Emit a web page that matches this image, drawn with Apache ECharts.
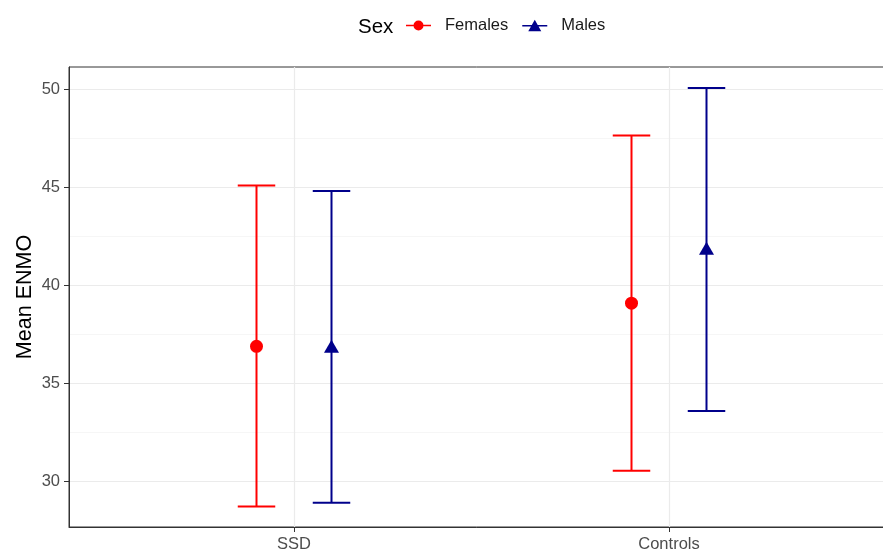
<!DOCTYPE html>
<html>
<head>
<meta charset="utf-8">
<script src="https://cdn.jsdelivr.net/npm/echarts@6/dist/echarts.min.js"></script>
<style>html,body{margin:0;padding:0;background:#fff;}#c{width:883px;height:550px;}</style>
</head>
<body>
<div id="c"></div>
<script>
// ---- data ----
var categories = ['SSD', 'Controls'];
var sexes = ['Females', 'Males'];
var femaleMean = [36.9, 39.1];
var femaleLower = [28.72, 30.55];
var femaleUpper = [45.1, 47.65];
var maleMean = [36.9, 41.9];
var maleLower = [28.92, 33.6];
var maleUpper = [44.82, 50.08];
var yTicks = [30, 35, 40, 45, 50];
var yMinor = [32.5, 37.5, 42.5, 47.5];

// ---- layout/style constants ----
var dodge = 0.1;
var capHalf = 0.05;
var FONT = '"Liberation Sans", Arial, Helvetica, sans-serif';
var colF = '#FF0000', colM = '#00008B';

function build(means, lows, ups, off) {
  var bars = [], pts = [];
  for (var i = 0; i < categories.length; i++) {
    bars.push([i + off, lows[i], ups[i]]);
    pts.push([i + off, means[i]]);
  }
  return {bars: bars, pts: pts};
}
var F = build(femaleMean, femaleLower, femaleUpper, -dodge);
var M = build(maleMean, maleLower, maleUpper, dodge);

function errRender(color) {
  return function (params, api) {
    var x = api.value(0);
    var lo = api.coord([x, api.value(1)]);
    var hi = api.coord([x, api.value(2)]);
    var hw = api.size([capHalf, 0])[0];
    var st = {stroke: color, lineWidth: 2, fill: null};
    return {type: 'group', children: [
      {type: 'line', shape: {x1: lo[0], y1: lo[1], x2: hi[0], y2: hi[1]}, style: st},
      {type: 'line', shape: {x1: lo[0] - hw, y1: lo[1], x2: lo[0] + hw, y2: lo[1]}, style: st},
      {type: 'line', shape: {x1: hi[0] - hw, y1: hi[1], x2: hi[0] + hw, y2: hi[1]}, style: st}
    ]};
  };
}

var iconF = 'path://M0,5.7H25V7.3H0Z M7.5,6.5A5,5 0 1 1 17.5,6.5A5,5 0 1 1 7.5,6.5Z';
var iconM = 'path://M0,5.7H25V7.3H0Z M12.5,0.5L19,12L6,12Z';

var chart = echarts.init(document.getElementById('c'), null, {renderer: 'canvas'});
chart.setOption({
  animation: false,
  backgroundColor: '#fff',
  title: {text: 'Sex', left: 353, top: 12, textStyle: {fontFamily: FONT, fontSize: 20.5, fontWeight: 'normal', color: '#000'}},
  legend: {
    left: 406, top: 17, padding: 0, itemWidth: 25, itemHeight: 13, itemGap: 14,
    textStyle: {fontFamily: FONT, fontSize: 16.5, color: '#1a1a1a', padding: [0, 0, 0, 9]},
    data: [
      {name: sexes[0], icon: iconF, itemStyle: {color: colF}},
      {name: sexes[1], icon: iconM, itemStyle: {color: colM}}
    ]
  },
  grid: {left: 69, top: 67, height: 460, width: 825, outerBoundsMode: 'none', containLabel: false,
    show: true, borderColor: '#333', borderWidth: 1, backgroundColor: '#fff'},
  xAxis: {
    type: 'value', min: -0.6, max: 1.6,
    axisLine: {show: true, onZero: false, lineStyle: {color: '#333', width: 1}},
    axisTick: {show: true, customValues: [0, 1], length: 5, lineStyle: {color: '#333'}},
    axisLabel: {customValues: [0, 1], margin: 9, fontFamily: FONT, fontSize: 16.5, color: '#4D4D4D',
      formatter: function (v) { return categories[Math.round(v)]; }},
    splitLine: {show: true, lineStyle: {color: '#EBEBEB', width: 1.2}}
  },
  yAxis: [{
    type: 'value', min: 27.68, max: 51.15,
    name: 'Mean ENMO', nameLocation: 'middle', nameGap: 33, nameMoveOverlap: false,
    nameTextStyle: {fontFamily: FONT, fontSize: 21.5, color: '#000'},
    axisLine: {show: true, onZero: false, lineStyle: {color: '#333', width: 1}},
    axisTick: {show: true, customValues: yTicks, length: 5, lineStyle: {color: '#333'}},
    axisLabel: {customValues: yTicks, margin: 9, fontFamily: FONT, fontSize: 16.5, color: '#4D4D4D'},
    splitLine: {show: true, lineStyle: {color: '#EBEBEB', width: 1.2}}
  }, {
    type: 'value', min: 27.68, max: 51.15, position: 'left',
    axisLine: {show: false, onZero: false}, axisLabel: {show: false},
    axisTick: {show: false, customValues: yMinor},
    splitLine: {show: true, lineStyle: {color: '#F2F2F2', width: 0.7}}
  }],
  series: [
    {name: sexes[0], type: 'custom', renderItem: errRender(colF), data: F.bars, z: 3, itemStyle: {color: colF}},
    {name: sexes[1], type: 'custom', renderItem: errRender(colM), data: M.bars, z: 3, itemStyle: {color: colM}},
    {name: sexes[0], type: 'scatter', data: F.pts, symbol: 'circle', symbolSize: 13, itemStyle: {color: colF, opacity: 1}, z: 4},
    {name: sexes[1], type: 'scatter', data: M.pts, symbol: 'triangle', symbolSize: [15, 13], itemStyle: {color: colM, opacity: 1}, z: 4}
  ]
});
</script>
</body>
</html>
